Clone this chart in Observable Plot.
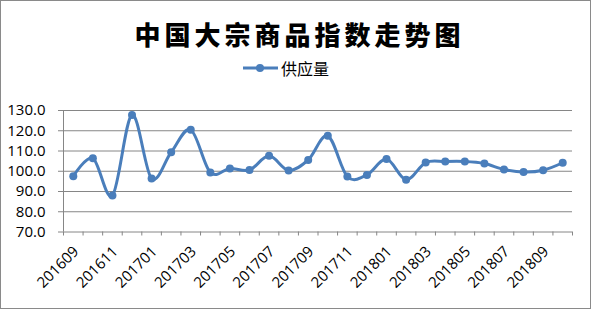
<!DOCTYPE html>
<html>
<head>
<meta charset="utf-8">
<script src="https://cdn.jsdelivr.net/npm/d3@7"></script>
<script src="https://cdn.jsdelivr.net/npm/@observablehq/plot@0.6"></script>
<style>
  html, body { margin: 0; padding: 0; background: #fff; }
  #frame { position: absolute; left: 0; top: 0; width: 589px; height: 307px; border: 1px solid #8a8a8a; }
  #title { position: absolute; left: 0; top: 21px; width: 599px; text-align: center;
           font-family: "Noto Sans CJK SC"; font-weight: 900; font-size: 26px; line-height: 26px;
           letter-spacing: 4px; color: #000; }
  #legend { position: absolute; left: 243px; top: 58px; height: 20px; display: flex; align-items: center;
            font-family: "Noto Sans CJK SC"; font-size: 16px; color: #000; }
  #legend svg { margin-right: 3px; }
  #chart { position: absolute; left: 0; top: 90px; }
</style>
</head>
<body>
<div id="frame"></div>
<div id="title">中国大宗商品指数走势图</div>
<div id="legend"><svg width="35" height="12"><line x1="0" x2="35" y1="6" y2="6" stroke="#4A7EBB" stroke-width="3"/><circle cx="17" cy="6" r="4" fill="#4A7EBB"/></svg><span>供应量</span></div>
<div id="chart"></div>
<script>
const months = ["201609","201610","201611","201612","201701","201702","201703","201704","201705","201706","201707","201708","201709","201710","201711","201712","201801","201802","201803","201804","201805","201806","201807","201808","201809","201810"];
const supply = [97.5, 106.4, 88.0, 127.8, 96.4, 109.4, 120.5, 99.4, 101.4, 100.6, 107.6, 100.4, 105.6, 117.5, 97.4, 98.2, 106.0, 95.8, 104.3, 104.8, 104.8, 103.8, 100.9, 99.6, 100.5, 104.2];
const xLabels = ["201609","201611","201701","201703","201705","201707","201709","201711","201801","201803","201805","201807","201809"];
const yTicks = [70, 80, 90, 100, 110, 120, 130];

const blue = "#4A7EBB";
const grid = "#868686";
const data = months.map((m, i) => ({pos: i + 0.5, month: m, value: supply[i]}));
const boundaries = d3.range(0, months.length + 1);
const labelPos = xLabels.map(l => months.indexOf(l) + 0.5);

const chart = Plot.plot({
  width: 591,
  height: 219,
  marginLeft: 63,
  marginRight: 19,
  marginTop: 20,
  marginBottom: 77.5,
  x: {domain: [0, months.length]},
  y: {domain: [70, 130]},
  style: {fontFamily: "'Open Sans', sans-serif", fontSize: "15px", color: "#000", background: "transparent", overflow: "visible"},
  marks: [
    Plot.gridY(yTicks, {stroke: grid, strokeOpacity: 1}),
    Plot.ruleX([0], {stroke: grid}),
    Plot.axisY({ticks: yTicks, tickFormat: d => d.toFixed(1), tickSize: 5, tickPadding: 13, stroke: grid, label: null}),
    Plot.axisX({ticks: boundaries, tickFormat: () => "", tickSize: 4, stroke: grid, label: null}),
    Plot.axisX({ticks: labelPos, tickFormat: p => months[p - 0.5], tickRotate: -45, tickSize: 0, tickPadding: 17, dx: 3, label: null}),
    Plot.line(data, {x: "pos", y: "value", stroke: blue, strokeWidth: 3, curve: "cardinal"}),
    Plot.dot(data, {x: "pos", y: "value", r: 4, fill: blue, stroke: "none"})
  ]
});
document.getElementById("chart").appendChild(chart);
</script>
</body>
</html>
